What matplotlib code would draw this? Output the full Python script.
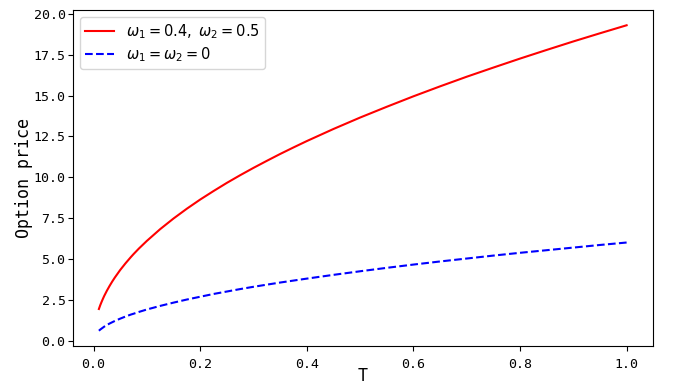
import matplotlib
matplotlib.use("Agg")
import matplotlib.pyplot as plt

T = [0.01, 0.0125, 0.015, 0.0175, 0.02, 0.025, 0.03, 0.035, 0.04, 0.045, 0.05, 0.06, 0.07, 0.075,
     0.085, 0.1, 0.125, 0.15, 0.175, 0.2, 0.225, 0.25, 0.275, 0.3, 0.325, 0.35, 0.375, 0.4,
     0.45, 0.5, 0.55, 0.6, 0.65, 0.7, 0.75, 0.8, 0.85, 0.9, 0.95, 1.0]
price_jump = [1.93, 2.16, 2.36, 2.55, 2.73, 3.05, 3.34, 3.61, 3.86, 4.09, 4.32, 4.73, 5.11, 5.29,
              5.63, 6.10, 6.82, 7.47, 8.07, 8.63, 9.15, 9.65, 10.12, 10.57, 11.00, 11.42, 11.82, 12.21,
              12.95, 13.65, 14.31, 14.95, 15.56, 16.15, 16.71, 17.26, 17.79, 18.31, 18.81, 19.30]
price_base = [0.60, 0.67, 0.73, 0.79, 0.85, 0.95, 1.04, 1.12, 1.20, 1.27, 1.34, 1.47, 1.59, 1.64,
              1.75, 1.90, 2.12, 2.32, 2.51, 2.68, 2.85, 3.00, 3.15, 3.29, 3.42, 3.55, 3.67, 3.79,
              4.02, 4.24, 4.45, 4.65, 4.84, 5.02, 5.20, 5.37, 5.53, 5.69, 5.85, 6.00]
label_jump = r"$\omega_1=0.4,\ \omega_2=0.5$"
label_base = r"$\omega_1=\omega_2=0$"

plt.rcParams['font.family'] = ['DejaVu Sans Mono', 'Noto Sans CJK SC']
plt.rcParams['mathtext.fontset'] = 'dejavusans'

fig = plt.figure(figsize=(6.73, 3.85), dpi=100)
ax = fig.add_axes([72.5/673, 1-346/385, (653-72.5)/673, (346-10)/385])
ax.plot(T, price_jump, color='red', lw=1.5, label=label_jump)
ax.plot(T, price_base, color='blue', lw=1.5, ls='--', label=label_base)
ax.set_xlabel('T', fontsize=12)
ax.set_ylabel('Option price', fontsize=12)
ax.xaxis.set_label_coords(0.5, -0.062)
ax.yaxis.set_label_coords(-0.068, 0.5)
ax.tick_params(axis='x', labelsize=9.5, pad=5)
ax.tick_params(axis='y', labelsize=9.5, pad=1.5)
leg = ax.legend(loc='upper left', prop={'family': 'DejaVu Sans', 'size': 10.5},
                borderpad=0.35, labelspacing=0.3, handlelength=2.0)
fig.savefig('out.png', dpi=100)
